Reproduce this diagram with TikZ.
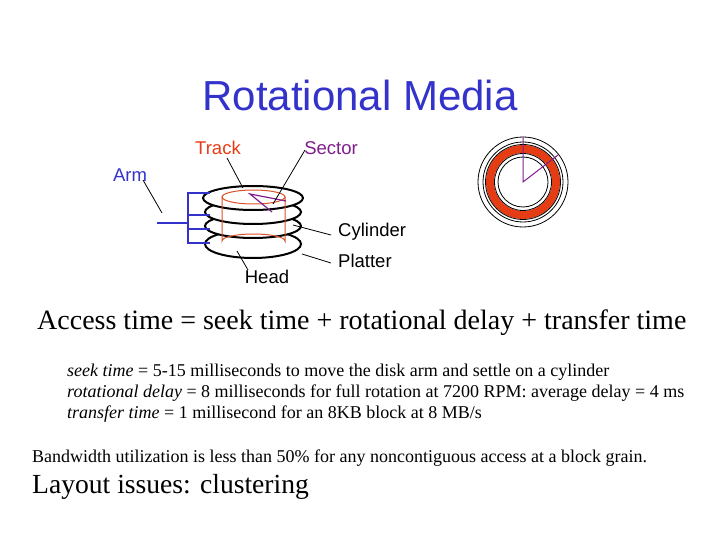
\documentclass[tikz,border=0pt]{standalone}
\usepackage{fontspec}
\setmainfont{Liberation Serif}
\newfontfamily\arial{Liberation Sans}
\definecolor{tblue}{RGB}{51,51,204}
\definecolor{tred}{RGB}{230,60,20}
\definecolor{tpurple}{RGB}{128,30,140}
\definecolor{aorange}{RGB}{220,80,40}
\begin{document}
\begin{tikzpicture}[x=1pt,y=-1pt,
  lab/.style={font=\arial\fontsize{18.5}{20}\selectfont,inner sep=0pt},
  txt/.style={anchor=west,inner sep=0pt},
  plat/.style={draw=black,line width=2pt,fill=white},
  thin/.style={draw=black,line width=0.8pt}]
\useasboundingbox (0,0) rectangle (720,540);
\node[font=\arial\fontsize{42}{46}\selectfont,text=tblue] (title) at (360,95) {Rotational Media};
% platters
\draw[plat] (253,244) ellipse (48 and 14);
\draw[plat] (253,226) ellipse (48 and 12);
\draw[plat] (253,212) ellipse (48 and 12);
\draw[plat] (253,198) ellipse (50 and 12);
% cylinder
\draw[aorange,line width=1pt] (222,197) -- (222,241) arc[start angle=180,end angle=360,x radius=31.5,y radius=7] -- (285,197);
\draw[aorange,line width=1pt] (253.5,197) ellipse (31.5 and 7);
% sector
\draw[tpurple,line width=1.2pt] (272,212) -- (250,194) -- (286,201);
% arm
\draw[tblue,line width=1.5pt] (157,223) -- (188,223);
\draw[tblue,line width=1.5pt] (210,193) -- (188,193) -- (188,243) -- (210,243);
\draw[tblue,line width=1.5pt] (188,215) -- (210,215);
\draw[tblue,line width=1.5pt] (188,229) -- (210,229);
% labels
\node[lab,text=tred] (track) at (218,148) {Track};
\node[lab,text=tpurple] (sector) at (331,148) {Sector};
\node[lab,text=tblue] (arm) at (130,175) {Arm};
\node[lab,anchor=west] (cyl) at (338,232) {Cylinder};
\node[lab,anchor=west] (platter) at (338,261) {Platter};
\node[lab] (head) at (267,277) {Head};
\coordinate (ta) at (243,188); \coordinate (sa) at (273,204);
\coordinate (aa) at (162,213); \coordinate (ca) at (293,225);
\coordinate (pa) at (302,254); \coordinate (ha) at (237,251);
\draw[thin] (227,158) -- (ta);
\draw[thin] (305,150) -- (sa);
\draw[thin] (143,180) -- (aa);
\draw[thin] (ca) -- (331,235);
\draw[thin] (pa) -- (331,263);
\draw[thin] (ha) -- (248,270);
% disk top view
\draw[line width=0.8pt] (523,182) circle (45);
\draw[line width=0.8pt] (523,182) circle (40);
\draw[tred,line width=8pt] (523,182) circle (33);
\draw[line width=0.8pt] (523,182) circle (37.5);
\draw[line width=0.8pt] (523,182) circle (28.5);
\draw[line width=0.8pt] (523,182) circle (25);
\draw[tpurple,line width=1pt] (523,137) -- (523,182) -- (558,155);
% text
\node[txt,font=\fontsize{28}{32}\selectfont] (access) at (37,323) {Access time = seek time + rotational delay + transfer time};
\node[txt,font=\fontsize{18}{20}\selectfont] (l1) at (67,372) {\textit{seek time} = 5-15 milliseconds to move the disk arm and settle on a cylinder};
\node[txt,font=\fontsize{18}{20}\selectfont] (l2) at (67,393) {\textit{rotational delay} = 8 milliseconds for full rotation at 7200 RPM: average delay = 4 ms};
\node[txt,font=\fontsize{18}{20}\selectfont] (l3) at (67,414) {\textit{transfer time} = 1 millisecond for an 8KB block at 8 MB/s};
\node[txt,font=\fontsize{18}{20}\selectfont] (bw) at (32,458) {Bandwidth utilization is less than 50\% for any noncontiguous access at a block grain.};
\node[txt,font=\fontsize{27.6}{30}\selectfont] (lay) at (32,487) {Layout issues: clustering};
\end{tikzpicture}
\end{document}
